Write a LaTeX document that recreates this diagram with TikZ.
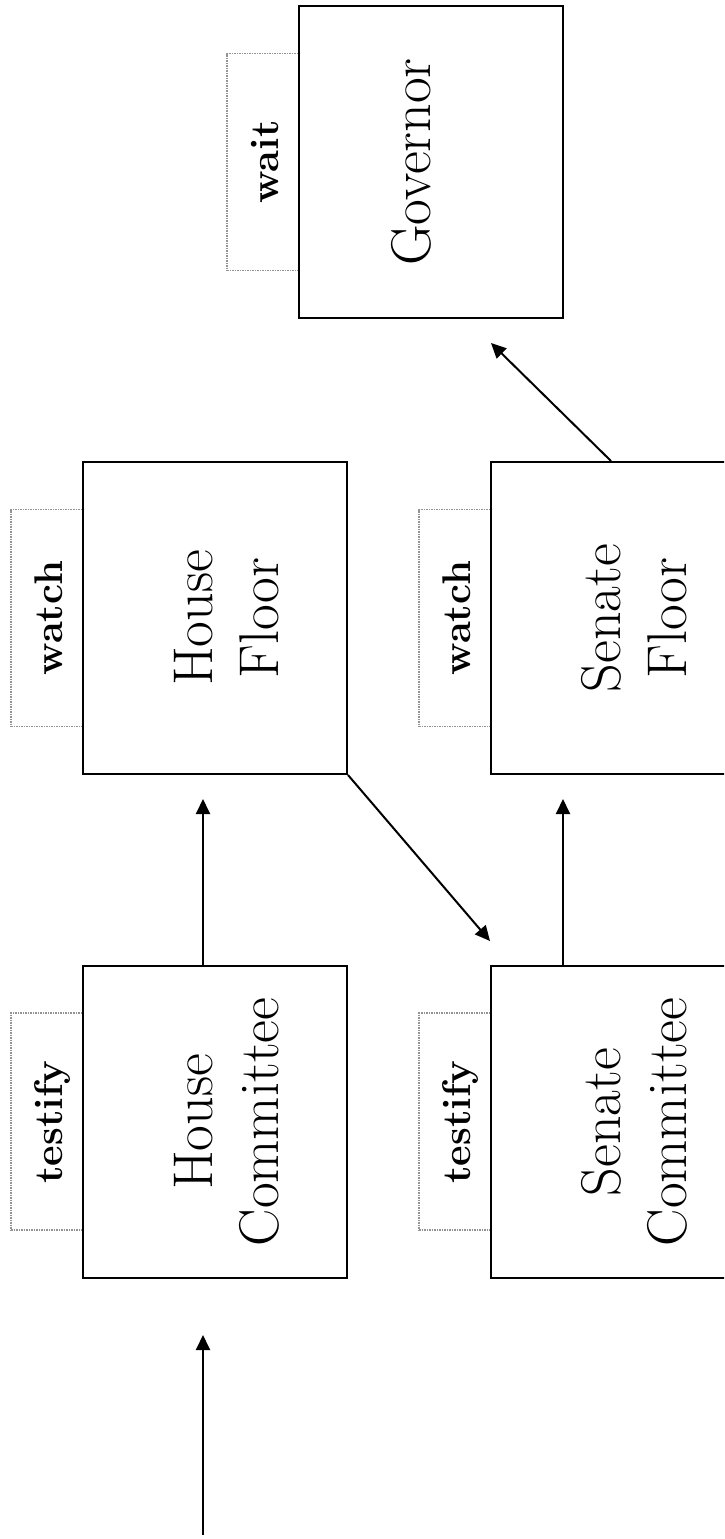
\documentclass[tikz,border=0pt]{standalone}
\usepackage{fontspec}
\usetikzlibrary{arrows.meta}
\tikzset{
  stagebox/.style={draw=black, line width=2pt, fill=white, minimum width=264pt, minimum height=312pt, inner sep=0pt},
  tabbox/.style={draw=gray!85, dash pattern=on 1.5pt off 1pt, line width=1.2pt, minimum width=72pt, minimum height=217pt, inner sep=0pt},
  maintext/.style={rotate=90, anchor=base, inner sep=0pt, font=\fontsize{56}{66}\selectfont},
  tabtext/.style={rotate=90, anchor=base, inner sep=0pt, font=\fontsize{40}{48}\selectfont\bfseries},
  arr/.style={line width=2pt, -{Triangle[length=15pt,width=14pt]}}
}
\begin{document}
\begin{tikzpicture}[x=1pt,y=-1pt]
\useasboundingbox (0,0) rectangle (724,1539);
\clip (0,0) rectangle (724,1539);
% tabs
\node[tabbox] (hctab) at (47,1121.5) {};
\node[tabbox] (hftab) at (47,618) {};
\node[tabbox] (sctab) at (455,1121.5) {};
\node[tabbox] (sftab) at (455,618) {};
\node[tabbox] (govtab) at (263,162) {};
% boxes
\node[stagebox] (hc) at (215,1122) {};
\node[stagebox] (hf) at (215,618) {};
\node[stagebox] (sc) at (623,1122) {};
\node[stagebox] (sf) at (623,618) {};
\node[stagebox] (gov) at (431,162) {};
% texts
\node[maintext] (hc1) at (212,1122) {House};
\node[maintext] (hc2) at (278,1122) {Committee};
\node[maintext] (hf1) at (212,618) {House};
\node[maintext] (hf2) at (278,618) {Floor};
\node[maintext] (sc1) at (620,1122) {Senate};
\node[maintext] (sc2) at (686,1122) {Committee};
\node[maintext] (sf1) at (620,618) {Senate};
\node[maintext] (sf2) at (686,618) {Floor};
\node[maintext] (gov1) at (430,162) {Governor};
\node[tabtext] (hct) at (62,1122) {testify};
\node[tabtext] (hft) at (62,618) {watch};
\node[tabtext] (sct) at (470,1122) {testify};
\node[tabtext] (sft) at (470,618) {watch};
\node[tabtext] (govt) at (278,162) {wait};
% arrows
\coordinate (start) at (203,1535);
\draw[arr] (start) -- ([xshift=-12pt,yshift=-56pt]hc.south);
\draw[arr] ([xshift=-12pt]hc.north) -- ([xshift=-12pt,yshift=-24pt]hf.south);
\draw[arr] (hf.south east) -- ([yshift=24pt]sc.north west);
\draw[arr] ([xshift=-60pt]sc.north) -- ([xshift=-60pt,yshift=-24pt]sf.south);
\draw[arr] ([xshift=-12pt]sf.north) -- ([xshift=60pt,yshift=-24pt]gov.south);
\end{tikzpicture}
\end{document}
